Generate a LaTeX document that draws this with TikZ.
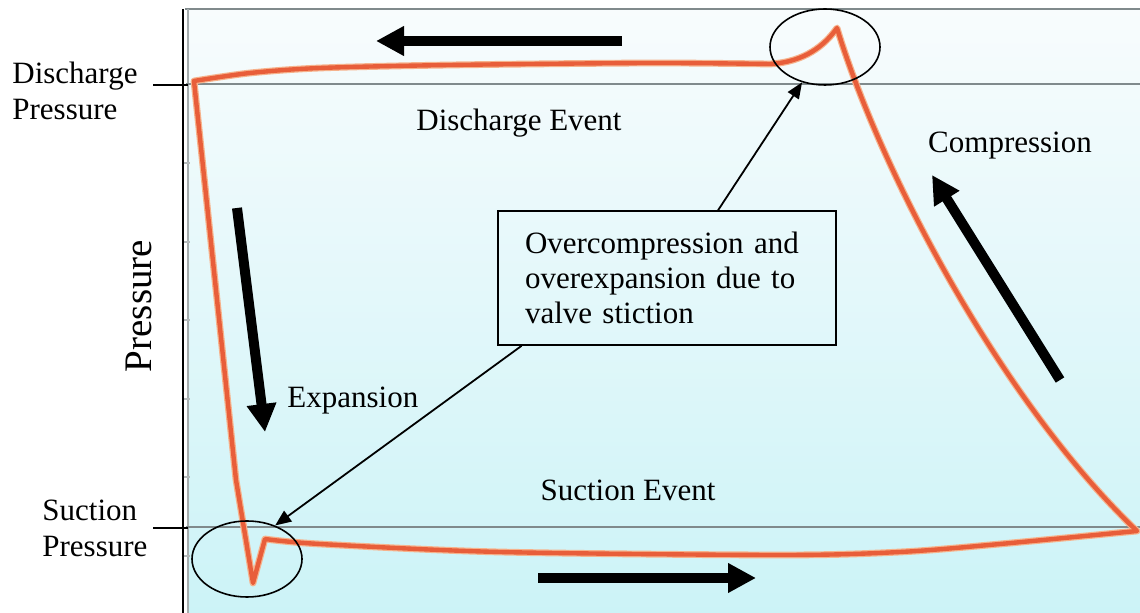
\documentclass[tikz,border=0pt]{standalone}
\usepackage{fontspec}
\setmainfont{Liberation Serif}
\usetikzlibrary{arrows.meta,shapes.geometric}

\newcommand{\plotfont}{\fontsize{15.5}{18}\selectfont}
\definecolor{loopred}{RGB}{232,94,58}
\definecolor{loophalo}{RGB}{246,178,140}
\definecolor{gridgray}{RGB}{128,138,140}
\definecolor{bgtop}{RGB}{248,252,253}
\definecolor{bgbottom}{RGB}{204,243,247}

\tikzset{
  lbl/.style={font=\plotfont, inner sep=0pt},
  fatarrow/.style={line width=5pt, -{Triangle[length=14pt,width=14pt]}},
  thinarrow/.style={line width=0.9pt, -{Triangle[length=8pt,width=6.5pt]}},
  spike/.style={draw, ellipse, line width=0.8pt, minimum width=55pt, minimum height=38pt, inner sep=0pt},
  levelline/.style={gridgray, line width=1pt},
  pvloop/.style={draw=loophalo, line width=0.6pt, double=loopred, double distance=2.2pt, line join=round},
}

\begin{document}
\begin{tikzpicture}[x=0.5pt,y=-0.5pt]
\useasboundingbox (0,0) rectangle (1140,613);

% plot area
\shade[top color=bgtop, bottom color=bgbottom] (187,9) rectangle (1140,613);
\draw[gridgray, line width=1pt] (185,9) -- (1140,9);
\draw[gridgray!70, line width=1pt] (188,9) -- (188,613);
\draw[line width=1pt] (183,9) -- (183,613);
\foreach \y in {163,242,320,399,477,556}
  \draw[gridgray!60, line width=0.6pt] (184,\y) -- (190,\y);

\draw[levelline] (186,84) -- (1140,84);
\draw[levelline] (186,527) -- (1140,527);
\draw[line width=1pt] (153,85) -- (188,85);
\draw[line width=1pt] (153,528) -- (188,528);

% p-v loop
\draw[pvloop] (194,81) -- (236,480) -- (253,583) -- (265,539)
  -- plot[smooth] coordinates {(265,539) (320,544) (500,552) (780,555) (900,552) (1000,544) (1137,531)}
  .. controls (1000,400) and (880,170) .. (837,28)
  .. controls (825,45) and (805,62) .. (770,64)
  -- plot[smooth] coordinates {(770,64) (650,63) (450,65) (320,68) (250,73) (194,81)}
  -- cycle;

\draw[fatarrow] (622,41) -- (376,41);
\draw[fatarrow] (538,578) -- (756,578);
\draw[fatarrow] (237,208) -- (265,432);
\draw[fatarrow] (1060,380) -- (932,175);

\node[spike] (topspike) at (825,47) {};
\node[spike] (botspike) at (247,559) {};

\node[lbl, draw, line width=0.8pt, text width=142pt, align=left, inner xsep=13.5pt,
      minimum height=67pt, font=\fontsize{15.5}{17.5}\selectfont] (note) at (667,278)
  {Overcompression and\\overexpansion due to\\valve stiction};
\draw[thinarrow] (note.53) -- (topspike.237);
\draw[thinarrow] (note.205) -- (botspike.50);

\node[lbl, anchor=base west, align=left] (dischlbl) at (12,120) {Discharge\\Pressure};
\node[lbl, anchor=base west, align=left] (suctlbl) at (42,557) {Suction\\Pressure};
\node[lbl, rotate=90, font=\fontsize{19.5}{22}\selectfont] (ylabel) at (139,306) {Pressure};

\node[lbl, anchor=base] (dischev) at (519,131) {Discharge Event};
\node[lbl, anchor=base] (suctev) at (628,501) {Suction Event};
\node[lbl, anchor=base] (compr) at (1010,153) {Compression};
\node[lbl, anchor=base west] (expan) at (287,408) {Expansion};
\end{tikzpicture}
\end{document}
